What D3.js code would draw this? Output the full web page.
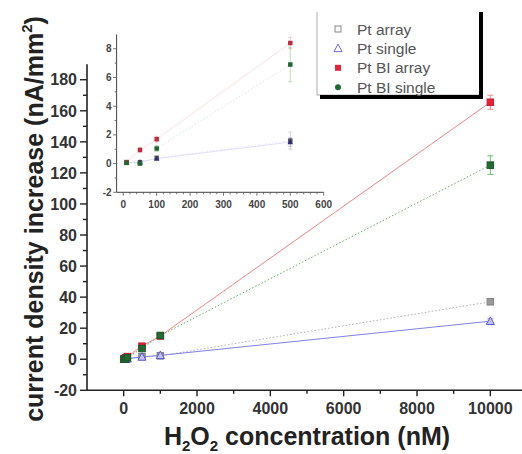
<!DOCTYPE html>
<html><head><meta charset="utf-8">
<script src="https://cdn.jsdelivr.net/npm/d3@7"></script>
<style>body{margin:0;background:#fff}svg{display:block}text{font-family:"Liberation Sans",Arial,sans-serif}</style>
</head><body><svg id="c" width="522" height="454"></svg>
<script>
// ---- data ----
const conc = [10, 50, 100, 500, 1000, 10000];
const ptArray    = [0.1, 0.1, 0.4, 1.6, 2.2, 37];
const ptSingle   = [0.05, 0.1, 0.35, 1.5, 2.5, 24.5];
const ptBiArray  = [0.1, 0.95, 1.7, 8.4, 15, 165.5];
const ptBiSingle = [0.05, 0.0, 1.05, 6.9, 15.3, 125];
const errArray    = [0.1, 0.1, 0.1, 0.6, 0.5, 1.5];
const errSingle   = [0.1, 0.1, 0.1, 0.3, 0.5, 1.5];
const errBiArray  = [0.1, 0.15, 0.2, 0.4, 1, 4.5];
const errBiSingle = [0.1, 0.1, 0.2, 1.2, 1, 6];
const seriesNames = ["Pt array", "Pt single", "Pt BI array", "Pt BI single"];
const mainXTicks = [0, 2000, 4000, 6000, 8000, 10000];
const mainYTicks = [-20, 0, 20, 40, 60, 80, 100, 120, 140, 160, 180];
const insetXTicks = [0, 100, 200, 300, 400, 500, 600];
const insetYTicks = [-2, 0, 2, 4, 6, 8];
const insetMaxConc = 500;

const styles = [
  {line:"#b0b0b0", dash:"1.5,2", mark:"square", fill:"#9a9a9a", stroke:"#808080", ifill:"#555", err:"#aaa"},
  {line:"#8080e8", dash:null, mark:"triangle", fill:"#c4c4f4", stroke:"#5a5ad8", ifill:"#30307a", err:"#8888e0"},
  {line:"#f28484", dash:null, mark:"square", fill:"#e0263a", stroke:"#c81c30", ifill:"#b83040", err:"#f08a8a"},
  {line:"#66b06a", dash:"1.5,2", mark:"square", fill:"#236b33", stroke:"#1a5528", ifill:"#256535", err:"#70c070"}
];
const values = [ptArray, ptSingle, ptBiArray, ptBiSingle];
const errs = [errArray, errSingle, errBiArray, errBiSingle];
const series = seriesNames.map((n,i)=>({name:n, st:styles[i],
  pts: conc.map((c,j)=>({x:c, y:values[i][j], e:errs[i][j]}))}));

const svg = d3.select("#c");
const axisColor = "#222";

function sym(g, type, x, y, size, fill, stroke, sw) {
  if (type === "square") {
    g.append("rect").attr("x", x-size/2).attr("y", y-size/2).attr("width", size).attr("height", size)
      .attr("fill", fill).attr("stroke", stroke).attr("stroke-width", sw);
  } else if (type === "triangle") {
    const h = size*0.9;
    g.append("path").attr("d", `M${x},${y-h*0.6}L${x+size/2},${y+h*0.45}L${x-size/2},${y+h*0.45}Z`)
      .attr("fill", fill).attr("stroke", stroke).attr("stroke-width", sw);
  } else {
    g.append("circle").attr("cx", x).attr("cy", y).attr("r", size/2)
      .attr("fill", fill).attr("stroke", stroke).attr("stroke-width", sw);
  }
}

// ---- main plot ----
const x = d3.scaleLinear().domain([-1000, 11000]).range([87, 527]);
const y = d3.scaleLinear().domain([-20, 190]).range([390.3, 64.2]);

const gm = svg.append("g");
series.forEach(s => {
  gm.append("path").datum(s.pts)
    .attr("d", d3.line().x(d=>x(d.x)).y(d=>y(d.y)))
    .attr("fill","none").attr("stroke", s.st.line).attr("stroke-width", 1)
    .attr("stroke-dasharray", s.st.dash);
});
series.forEach(s => {
  s.pts.forEach(p => {
    const y1 = y(p.y - p.e), y2 = y(p.y + p.e);
    if (y1 - y2 > 3) {
      gm.append("line").attr("x1", x(p.x)).attr("x2", x(p.x)).attr("y1", y1).attr("y2", y2).attr("stroke", s.st.err).attr("stroke-width",1);
      [y1,y2].forEach(v=>gm.append("line").attr("x1", x(p.x)-3).attr("x2", x(p.x)+3).attr("y1", v).attr("y2", v).attr("stroke", s.st.err).attr("stroke-width",1));
    }
  });
});
series.forEach(s => {
  s.pts.forEach(p => sym(gm, s.st.mark, x(p.x), y(p.y), s.st.mark==="triangle"?8:6.5, s.st.fill, s.st.stroke, 1));
});

const xAxis = gm.append("g").attr("transform", `translate(0,${y(-20)})`);
xAxis.append("line").attr("x1", x(-1000)).attr("x2", 522).attr("stroke", axisColor).attr("stroke-width", 1.6);
d3.range(0, 11000, 1000).forEach(v => {
  const major = mainXTicks.includes(v);
  xAxis.append("line").attr("x1", x(v)).attr("x2", x(v)).attr("y1", 0).attr("y2", major?6:3.5).attr("stroke", axisColor).attr("stroke-width", 1.4);
});
mainXTicks.forEach(v => xAxis.append("text").attr("x", x(v)).attr("y", 24).attr("text-anchor","middle")
  .attr("font-size", 16).attr("font-weight","bold").attr("fill","#333").text(v));

const yAxis = gm.append("g").attr("transform", `translate(${x(-1000)},0)`);
yAxis.append("line").attr("y1", y(-20)).attr("y2", y(190)).attr("stroke", axisColor).attr("stroke-width", 1.6);
d3.range(-20, 190, 10).forEach(v => {
  const major = mainYTicks.includes(v);
  yAxis.append("line").attr("x1", major?-7:-4).attr("x2", 0).attr("y1", y(v)).attr("y2", y(v)).attr("stroke", axisColor).attr("stroke-width", 1.4);
});
mainYTicks.forEach(v => yAxis.append("text").attr("x", -10).attr("y", y(v)).attr("dy","0.36em").attr("text-anchor","end")
  .attr("font-size", 16).attr("font-weight","bold").attr("fill","#333").text(v));

const xt = svg.append("text").attr("x", 307).attr("y", 445).attr("text-anchor","middle")
  .attr("font-size", 25).attr("font-weight","bold").attr("fill","#222");
xt.append("tspan").text("H");
xt.append("tspan").attr("font-size", 15).attr("dy", 6).text("2");
xt.append("tspan").attr("dy", -6).text("O");
xt.append("tspan").attr("font-size", 15).attr("dy", 6).text("2");
xt.append("tspan").attr("dy", -6).text(" concentration (nM)");

const yt = svg.append("text").attr("transform", "translate(43,219) rotate(-90)").attr("text-anchor","middle")
  .attr("font-size", 25).attr("font-weight","bold").attr("fill","#222");
yt.append("tspan").text("current density increase (nA/mm");
yt.append("tspan").attr("font-size", 15).attr("dy", -11).text("2");
yt.append("tspan").attr("dy", 11).text(")");

// ---- inset ----
const xi = d3.scaleLinear().domain([-20, 600]).range([116.6, 323.7]);
const yi = d3.scaleLinear().domain([-2, 9]).range([192.3, 34.4]);
const gi = svg.append("g");
const inPts = s => s.pts.filter(p => p.x <= insetMaxConc);
series.forEach(s => {
  gi.append("path").datum(inPts(s))
    .attr("d", d3.line().x(d=>xi(d.x)).y(d=>yi(d.y)))
    .attr("fill","none").attr("stroke", s.st.line).attr("stroke-width", 1).attr("stroke-opacity", 0.25)
    .attr("stroke-dasharray", s.st.dash);
});
series.forEach(s => {
  inPts(s).forEach(p => {
    const y1 = yi(p.y - p.e), y2 = yi(p.y + p.e);
    if (y1 - y2 > 4) {
      gi.append("line").attr("x1", xi(p.x)).attr("x2", xi(p.x)).attr("y1", y1).attr("y2", y2).attr("stroke", s.st.err).attr("stroke-width",0.8).attr("stroke-opacity",0.6);
      [y1,y2].forEach(v=>gi.append("line").attr("x1", xi(p.x)-2).attr("x2", xi(p.x)+2).attr("y1", v).attr("y2", v).attr("stroke", s.st.err).attr("stroke-width",0.8).attr("stroke-opacity",0.6));
    }
  });
});
series.forEach(s => {
  inPts(s).forEach(p => sym(gi, s.st.mark, xi(p.x), yi(p.y), s.st.mark==="triangle"?5.5:4.5, s.st.ifill, "none", 0));
});
const ixa = gi.append("g").attr("transform", `translate(0,${yi(-2)})`);
ixa.append("line").attr("x1", xi(-20)).attr("x2", xi(600)).attr("stroke", "#444").attr("stroke-width", 1);
d3.range(0, 610, 20).forEach(v => {
  const major = insetXTicks.includes(v);
  ixa.append("line").attr("x1", xi(v)).attr("x2", xi(v)).attr("y1", 0).attr("y2", major?3.5:2).attr("stroke", "#555").attr("stroke-width", 0.8);
});
insetXTicks.forEach(v => ixa.append("text").attr("x", xi(v)).attr("y", 15.5).attr("text-anchor","middle")
  .attr("font-size", 10).attr("font-weight","bold").attr("fill","#444").text(v));
const iya = gi.append("g").attr("transform", `translate(${xi(-20)},0)`);
iya.append("line").attr("y1", yi(-2)).attr("y2", yi(9)).attr("stroke", "#444").attr("stroke-width", 1);
d3.range(-2, 9, 1).forEach(v => {
  const major = insetYTicks.includes(v);
  iya.append("line").attr("x1", major?-3.5:-2).attr("x2", 0).attr("y1", yi(v)).attr("y2", yi(v)).attr("stroke", "#555").attr("stroke-width", 0.8);
});
insetYTicks.forEach(v => iya.append("text").attr("x", -5).attr("y", yi(v)).attr("dy","0.36em").attr("text-anchor","end")
  .attr("font-size", 10).attr("font-weight","bold").attr("fill","#444").text(v));

// ---- legend ----
const lg = svg.append("g");
lg.append("rect").attr("x", 317).attr("y", -2).attr("width", 163).attr("height", 97).attr("fill","#fff").attr("stroke","#999").attr("stroke-width",0.8);
lg.append("line").attr("x1", 481).attr("x2", 481).attr("y1", 12).attr("y2", 99).attr("stroke","#000").attr("stroke-width",4);
lg.append("line").attr("x1", 320).attr("x2", 483).attr("y1", 97).attr("y2", 97).attr("stroke","#000").attr("stroke-width",4);
lg.append("rect").attr("x", 315).attr("y", 0).attr("width", 170).attr("height", 12).attr("fill","#fff");
const legMarks = [
  {t:"square", f:"none", s:"#888"},
  {t:"triangle", f:"none", s:"#6a6ae0"},
  {t:"square", f:"#e0263a", s:"none"},
  {t:"circle", f:"#1f6a30", s:"none"}
];
seriesNames.forEach((n,i) => {
  const yy = 29 + i*19.4;
  sym(lg, legMarks[i].t, 338, yy, legMarks[i].t==="triangle"?8:6, legMarks[i].f, legMarks[i].s, 1);
  lg.append("text").attr("x", 357).attr("y", yy).attr("dy","0.36em").attr("font-size", 15.5).attr("fill","#555").text(n);
});
</script></body></html>
